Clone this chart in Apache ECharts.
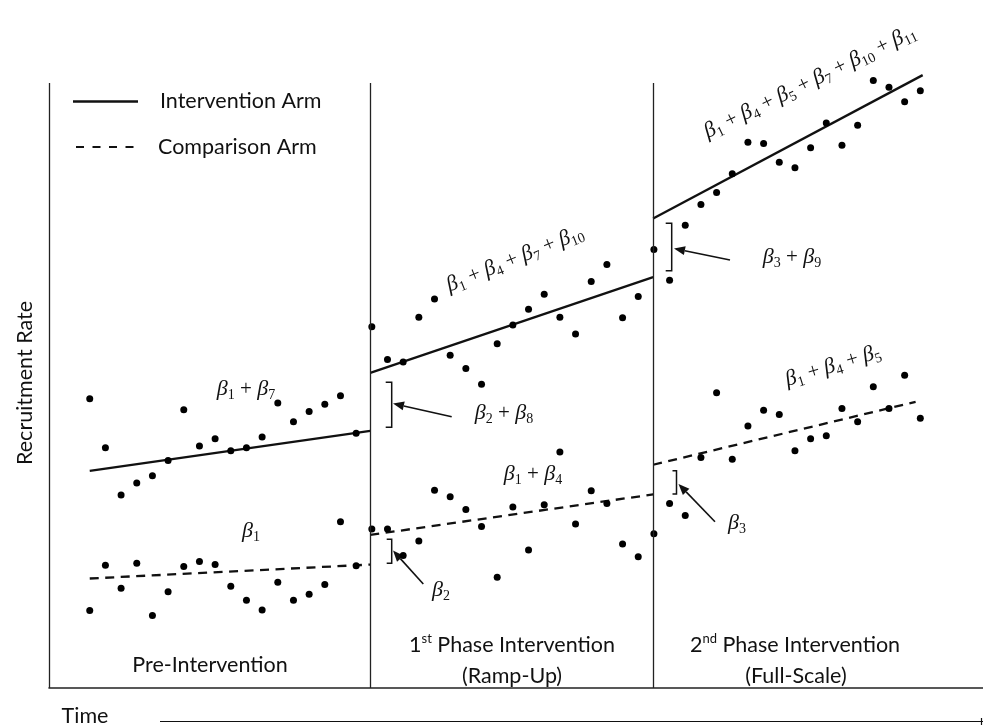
<!DOCTYPE html>
<html>
<head>
<meta charset="utf-8">
<script src="https://cdn.jsdelivr.net/npm/echarts@6/dist/echarts.min.js"></script>
<style>
  html, body { margin: 0; padding: 0; background: #fff; }
  #chart { width: 983px; height: 727px; }
</style>
</head>
<body>
<div id="chart"></div>
<script>
// time points 0..53, 18 per phase
const interventionRate = [
  47.8, 39.7, 31.9, 33.9, 35.1, 37.6, 46.0, 40.0, 41.2, 39.2, 39.7, 41.5, 47.1, 44.0, 45.7, 46.9, 48.3, 42.1,
  59.7, 54.3, 53.9, 61.3, 64.3, 55.0, 52.8, 50.2, 56.9, 60.0, 62.6, 65.1, 61.3, 58.5, 67.2, 70.0, 61.2, 64.7,
  72.5, 67.4, 76.5, 79.9, 81.9, 85.0, 90.2, 90.0, 86.9, 86.0, 89.3, 93.4, 89.7, 93.0, 100.4, 99.3, 96.9, 98.7
];
const comparisonRate = [
  12.8, 20.3, 16.5, 20.6, 12.0, 15.9, 20.1, 20.9, 20.4, 16.8, 14.5, 12.9, 17.5, 14.5, 15.5, 17.1, 27.5, 20.2,
  26.3, 26.3, 21.9, 24.3, 32.7, 31.6, 29.5, 26.7, 18.3, 29.9, 22.8, 30.3, 39.0, 27.1, 32.6, 30.5, 23.8, 21.7,
  25.5, 30.5, 28.5, 38.1, 48.8, 37.8, 43.3, 45.9, 45.2, 39.2, 41.2, 41.7, 46.2, 44.0, 49.8, 46.2, 51.7, 44.6
];

// fitted segments per phase: [x0, y0, x1, y1]
const interventionFit = [
  [0, 35.9, 17.9, 42.5],
  [17.9, 52.1, 35.95, 67.9],
  [35.95, 77.6, 53.15, 101.3]
];
const comparisonFit = [
  [0, 18.1, 17.9, 20.4],
  [17.9, 25.3, 35.95, 32.0],
  [35.95, 36.9, 52.7, 47.3]
];

// left axis and the two phase boundaries
const dividers = [-2.6, 17.9, 35.95];
const dividerTop = 100;

const phaseNames = ["Pre-Intervention", "1st Phase Intervention", "2nd Phase Intervention"];

const myChart = echarts.init(document.getElementById("chart"));

// 希腊字母标注
function betaText(subs) {
  return subs.map(n => `{b|β}{s|${n}}`).join("{p| + }");
}
const betaRich = {
  b: { fontFamily: "Liberation Serif", fontStyle: "italic", fontSize: 22, lineHeight: 26, fill: "#111" },
  s: { fontFamily: "Liberation Serif", fontSize: 14, lineHeight: 13, verticalAlign: "bottom", fill: "#111" },
  p: { fontFamily: "Liberation Serif", fontSize: 21, lineHeight: 26, fill: "#111" }
};
function betaLabel(subs, x, y, deg) {
  return {
    type: "text", x: x, y: y, rotation: (deg || 0) * Math.PI / 180,
    style: { text: betaText(subs), rich: betaRich, align: "center", verticalAlign: "middle" }
  };
}
function arrow(x1, y1, x2, y2) {
  const a = Math.atan2(y2 - y1, x2 - x1), L = 11, W = 4.5;
  const bx = x2 - L * Math.cos(a), by = y2 - L * Math.sin(a);
  const px = -Math.sin(a) * W, py = Math.cos(a) * W;
  return [
    { type: "line", shape: { x1: x1, y1: y1, x2: bx, y2: by }, style: { stroke: "#111", lineWidth: 1.6 } },
    { type: "polygon", shape: { points: [[x2, y2], [bx + px, by + py], [bx - px, by - py]] }, style: { fill: "#111" } }
  ];
}
function bracket(x, y1, y2, w) {
  return {
    type: "polyline",
    shape: { points: [[x - w, y1], [x, y1], [x, y2], [x - w, y2]] },
    style: { stroke: "#111", lineWidth: 1.5, fill: null }
  };
}
const sans = { fontFamily: "Lato", fontSize: 21.5, fill: "#111" };
function plain(text, x, y, extra) {
  return { type: "text", x: x, y: y, style: Object.assign({ text: text, align: "center", verticalAlign: "middle" }, sans, extra || {}) };
}
const supRich = {
  n: { fontFamily: "Lato", fontSize: 21.5, lineHeight: 26, fill: "#111" },
  u: { fontFamily: "Lato", fontSize: 13, lineHeight: 14, verticalAlign: "top", fill: "#111" }
};

const graphics = [
  // 图例
  { type: "line", shape: { x1: 73, y1: 101.5, x2: 138, y2: 101.5 }, style: { stroke: "#111", lineWidth: 2.3 } },
  { type: "line", shape: { x1: 76, y1: 147, x2: 136, y2: 147 }, style: { stroke: "#111", lineWidth: 2, lineDash: [8, 8.5] } },
  plain("Intervention Arm", 160, 101, { align: "left" }),
  plain("Comparison Arm", 158, 147, { align: "left" }),
  // 阶段名称
  plain(phaseNames[0], 210, 665),
  { type: "text", x: 512, y: 645, style: { text: "{n|1}{u|st}{n| Phase Intervention}", rich: supRich, align: "center", verticalAlign: "middle" } },
  plain("(Ramp-Up)", 512, 676),
  { type: "text", x: 795, y: 645, style: { text: "{n|2}{u|nd}{n| Phase Intervention}", rich: supRich, align: "center", verticalAlign: "middle" } },
  plain("(Full-Scale)", 796, 676),
  // 坐标轴名称
  plain("Recruitment Rate", 25, 383, {}),
  plain("Time", 85, 716),
  { type: "line", shape: { x1: 160, y1: 721.5, x2: 983, y2: 721.5 }, style: { stroke: "#111", lineWidth: 1.2 } },
  { type: "line", shape: { x1: 981.5, y1: 718, x2: 981.5, y2: 725 }, style: { stroke: "#111", lineWidth: 1.2 } },
  // 系数标注
  betaLabel([1, 7], 246, 389),
  betaLabel([1], 251, 531),
  betaLabel([1, 4, 7, 10], 515, 259, 22),
  betaLabel([2, 8], 504, 413),
  betaLabel([1, 4], 533, 474),
  betaLabel([2], 441, 590),
  betaLabel([3, 9], 792, 257),
  betaLabel([1, 4, 5], 833, 366, 17),
  betaLabel([3], 737, 523),
  betaLabel([1, 4, 5, 7, 10, 11], 810, 82, 26),
  // 括号
  bracket(391.7, 382.3, 427.3, 6),
  bracket(391.7, 539.3, 563.3, 5),
  bracket(671.7, 223.3, 270.7, 6),
  bracket(676.5, 470.7, 494, 4)
].concat(
  arrow(451.7, 416.7, 393, 403.5),
  arrow(423.3, 584, 393, 550.5),
  arrow(730, 260, 674, 248.5),
  arrow(715, 521.7, 678.5, 484)
);
// rotate y-axis name
graphics[9].rotation = Math.PI / 2;

function fitSeries(segs, name, dashed) {
  return segs.map(s => ({
    name: name,
    type: "line",
    data: [[s[0], s[1]], [s[2], s[3]]],
    showSymbol: false,
    silent: true,
    lineStyle: { color: "#111", width: 2.3, type: dashed ? [9, 6.5] : "solid" },
    z: 3
  }));
}

const option = {
  backgroundColor: "#fff",
  animation: false,
  grid: { left: 49, right: 0, top: 52.75, bottom: 39 },
  xAxis: {
    type: "value",
    min: -2.6,
    max: 57,
    axisLine: { show: true, onZero: true, lineStyle: { color: "#222", width: 1.6 } },
    axisTick: { show: false },
    axisLabel: { show: false },
    splitLine: { show: false }
  },
  yAxis: {
    type: "value",
    min: 0,
    max: 105,
    axisLine: { show: false },
    axisTick: { show: false },
    axisLabel: { show: false },
    splitLine: { show: false }
  },
  series: [
    {
      name: "Intervention Arm",
      type: "scatter",
      data: interventionRate.map((v, i) => [i, v]),
      symbolSize: 7,
      itemStyle: { color: "#000", opacity: 1 },
      markLine: {
        silent: true,
        symbol: "none",
        label: { show: false },
        lineStyle: { color: "#222", width: 1.3, type: "solid" },
        data: dividers.map(d => [{ coord: [d, 0] }, { coord: [d, dividerTop] }])
      },
      z: 4
    },
    {
      name: "Comparison Arm",
      type: "scatter",
      data: comparisonRate.map((v, i) => [i, v]),
      symbolSize: 7,
      itemStyle: { color: "#000", opacity: 1 },
      z: 4
    }
  ]
    .concat(fitSeries(interventionFit, "Intervention Arm", false))
    .concat(fitSeries(comparisonFit, "Comparison Arm", true)),
  graphic: graphics
};

option && myChart.setOption(option);
</script>
</body>
</html>
